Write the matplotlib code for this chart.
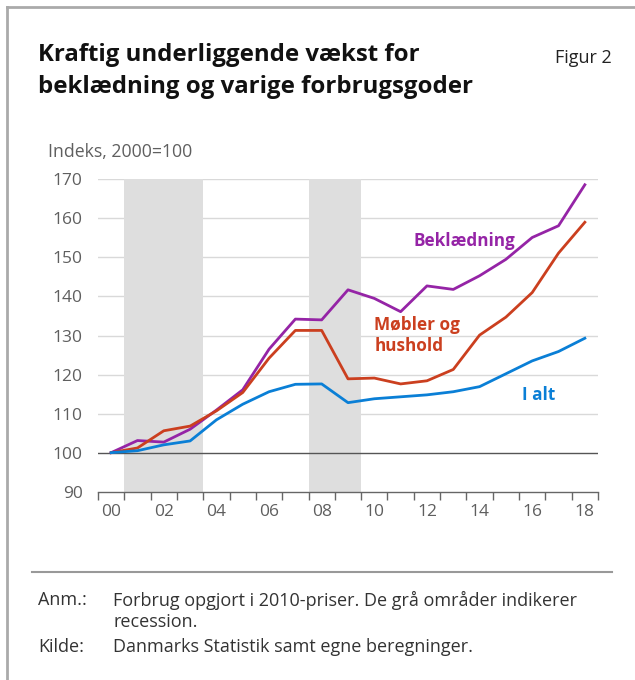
import matplotlib.pyplot as plt
from matplotlib.lines import Line2D

plt.rcParams['font.family'] = ['Open Sans', 'DejaVu Sans']

# Data (index, 2000=100)
years = list(range(2000, 2019))
beklaedning = [100, 103.1, 102.7, 106.0, 110.9, 116.1, 126.5, 134.2, 134.0, 141.7,
               139.5, 136.1, 142.7, 141.8, 145.3, 149.5, 155.1, 158.1, 168.6]
mobler = [100, 101.2, 105.6, 106.8, 110.7, 115.4, 124.2, 131.3, 131.3, 118.9,
          119.1, 117.6, 118.4, 121.3, 130.1, 134.7, 141.0, 151.1, 159.0]
i_alt = [100, 100.5, 102.0, 103.0, 108.4, 112.4, 115.6, 117.5, 117.6, 112.8,
         113.8, 114.3, 114.8, 115.6, 116.9, 120.2, 123.5, 125.9, 129.3]
recessions = [(2001, 2003), (2008, 2009)]
yticks = [90, 100, 110, 120, 130, 140, 150, 160, 170]
xlabels = ['00', '02', '04', '06', '08', '10', '12', '14', '16', '18']

purple = '#9524A6'
red = '#CB3F1F'
blue = '#0A7FD6'
gray_txt = '#5f5f5f'

fig = plt.figure(figsize=(6.35, 6.8), dpi=100)
ax = fig.add_axes([98 / 635, 1 - 491.7 / 680, 500 / 635, 312.4 / 680])

x = [y - years[0] for y in years]

# Recession shading
for a, b in recessions:
    ax.axvspan(a - years[0] - 0.5, b - years[0] + 0.5, color='#dedede', lw=0, zorder=1)

# Gridlines
for t in yticks[1:]:
    if t == 100:
        ax.axhline(t, color='#555555', lw=1.0, zorder=2)
    else:
        ax.axhline(t, color='#d9d9d9', lw=1.0, zorder=0)

ax.plot(x, beklaedning, color=purple, lw=2.0, zorder=3)
ax.plot(x, mobler, color=red, lw=2.0, zorder=3)
ax.plot(x, i_alt, color=blue, lw=2.0, zorder=3)

ax.set_xlim(-0.5, len(years) - 0.5)
ax.set_ylim(90, 170)

for s in ['top', 'right', 'left']:
    ax.spines[s].set_visible(False)
ax.spines['bottom'].set_color('#666666')
ax.spines['bottom'].set_linewidth(1.0)

ax.set_yticks(yticks)
ax.set_yticklabels([str(t) for t in yticks])
ax.tick_params(axis='y', length=0, pad=11, labelsize=12.5, labelcolor=gray_txt)

ax.set_xticks([i - 0.5 for i in range(len(years) + 1)])
ax.set_xticklabels([])
ax.tick_params(axis='x', length=6, width=1.0, color='#666666', direction='out')
for i, lab in zip(range(0, len(years), 2), xlabels):
    ax.text(i, 84.8, lab, ha='center', va='center', fontsize=12.5, color=gray_txt,
            clip_on=False)

# Series labels
ax.text(11.5, 154.2, 'Beklædning', color=purple, fontsize=12.3, fontweight='bold',
        va='center')
ax.text(10.0, 129.9, 'Møbler og\nhushold', color=red, fontsize=12.3, fontweight='bold',
        va='center', linespacing=1.2)
ax.text(15.6, 114.8, 'I alt', color=blue, fontsize=12.3, fontweight='bold', va='center')

# Title and notes
fig.text(38 / 635, 1 - 55 / 680, 'Kraftig underliggende vækst for', fontsize=17.3,
         fontweight='bold', va='center', color='#111111')
fig.text(38 / 635, 1 - 87 / 680, 'beklædning og varige forbrugsgoder', fontsize=17.3,
         fontweight='bold', va='center', color='#111111')
fig.text(612 / 635, 1 - 58 / 680, 'Figur 2', fontsize=13, ha='right', va='center',
         color='#222222')
fig.text(48 / 635, 1 - 152 / 680, 'Indeks, 2000=100', fontsize=12.7, va='center',
         color=gray_txt)

fig.add_artist(Line2D([32 / 635, 612 / 635], [1 - 572 / 680] * 2, color='#999999', lw=1.5))
fig.add_artist(Line2D([7 / 635, 7 / 635], [0, 1 - 7 / 680], color='#aaaaaa', lw=2))
fig.add_artist(Line2D([7 / 635, 1], [1 - 7 / 680] * 2, color='#aaaaaa', lw=2))

notes = [('Anm.:', 600, 'Forbrug opgjort i 2010-priser. De grå områder indikerer'),
         ('', 622, 'recession.'),
         ('Kilde:', 647, 'Danmarks Statistik samt egne beregninger.')]
for lab, ypix, txt in notes:
    fig.text(38 / 635, 1 - ypix / 680, lab, fontsize=13, va='center', color='#333333')
    fig.text(113 / 635, 1 - ypix / 680, txt, fontsize=13, va='center', color='#333333')

fig.savefig('out.png', dpi=100)
